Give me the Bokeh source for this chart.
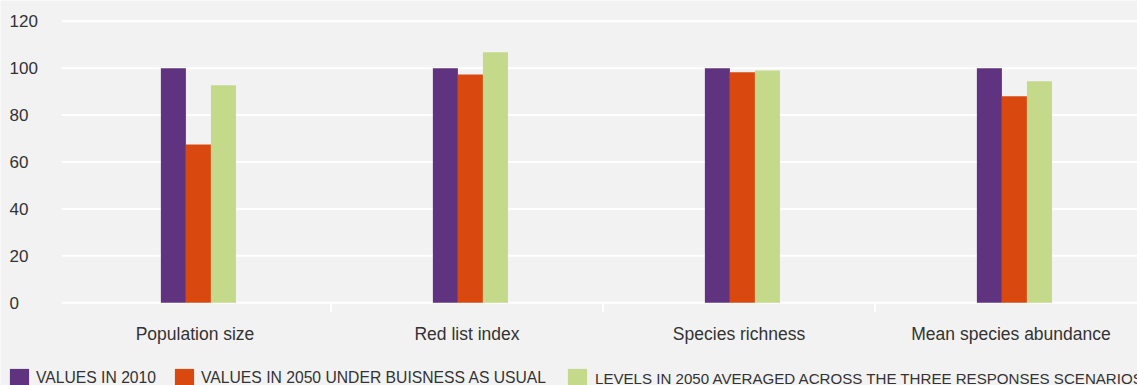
from bokeh.plotting import figure
from bokeh.models import ColumnDataSource, Range1d, Legend, LegendItem
from bokeh.core.properties import value
from bokeh.transform import dodge
from bokeh.embed import file_html
from bokeh.resources import INLINE

categories = ["Population size", "Red list index", "Species richness", "Mean species abundance"]
values_2010 = [100, 100, 100, 100]
values_2050_bau = [67.5, 97.3, 98.2, 88.0]
levels_2050_avg = [92.7, 106.8, 99.0, 94.4]
series_names = ["VALUES IN 2010", "VALUES IN 2050 UNDER BUISNESS AS USUAL",
                "LEVELS IN 2050 AVERAGED ACROSS THE THREE RESPONSES SCENARIOS"]
colors = ["#5f3380", "#d9480e", "#c4d98a"]
y_ticks = [0, 20, 40, 60, 80, 100, 120]

n = len(categories)
xpos = [i + 0.5 for i in range(n)]          # category centres
bounds = [float(i) for i in range(1, n)]    # category separators

BG = "#f2f2f2"
FONT = value("Liberation Sans")
TXT = "#333333"

X0, X1 = -0.2151, 3.965
Y0, Y1 = -35.24, 128.82

p = figure(width=1137, height=385, output_backend="svg", toolbar_location=None,
           x_range=Range1d(X0, X1), y_range=Range1d(Y0, Y1),
           x_axis_location=None, y_axis_location=None,
           min_border=0, min_border_left=0, min_border_right=0,
           min_border_top=0, min_border_bottom=0,
           background_fill_color=BG, border_fill_color=BG, outline_line_color=None)
p.grid.visible = False

# horizontal grid lines (value ticks)
grid = ColumnDataSource(dict(y=y_ticks, x0=[0.01] * len(y_ticks), x1=[X1] * len(y_ticks),
                             lab=[str(t) for t in y_ticks], lx=[-0.182] * len(y_ticks)))
p.segment(x0="x0", x1="x1", y0="y", y1="y", source=grid, line_color="white", line_width=2)
# value tick labels
p.text(x="lx", y="y", text="lab", source=grid, text_align="left", text_baseline="middle",
       text_font=FONT, text_font_size="17px", text_color=TXT)

# category separators
sep = ColumnDataSource(dict(x=bounds, y0=[0] * len(bounds), y1=[-4.0] * len(bounds)))
p.segment(x0="x", x1="x", y0="y0", y1="y1", source=sep, line_color="white", line_width=2)

# bars
src = ColumnDataSource(dict(x=xpos, cat=categories, a=values_2010, b=values_2050_bau,
                            c=levels_2050_avg, ly=[-13.2] * n))
bw = 0.092
off0 = -0.0795
r1 = p.vbar(x=dodge("x", off0, range=p.x_range), top="a", width=bw, source=src,
            fill_color=colors[0], line_color=None)
r2 = p.vbar(x=dodge("x", off0 + bw, range=p.x_range), top="b", width=bw, source=src,
            fill_color=colors[1], line_color=None)
r3 = p.vbar(x=dodge("x", off0 + 2 * bw, range=p.x_range), top="c", width=bw, source=src,
            fill_color=colors[2], line_color=None)

# category labels
p.text(x="x", y="ly", text="cat", source=src, text_align="center", text_baseline="alphabetic",
       text_font=FONT, text_font_size="17.5px", text_color=TXT)

common = dict(orientation="horizontal", glyph_width=24, glyph_height=24, label_height=24,
              padding=0, margin=0, border_line_color=None, background_fill_alpha=0,
              label_text_font="Liberation Sans", label_text_color=TXT)
legend_a = Legend(items=[LegendItem(label=series_names[0], renderers=[r1]),
                         LegendItem(label=series_names[1], renderers=[r2])],
                  location=(7, -5), label_standoff=5, spacing=16,
                  label_text_font_size="15.7px", **common)
legend_b = Legend(items=[LegendItem(label=series_names[2], renderers=[r3])],
                  location=(565, -5), label_standoff=6, spacing=16,
                  label_text_font_size="15.1px", **common)
p.add_layout(legend_a, "center")
p.add_layout(legend_b, "center")

open("out.html", "w").write(file_html(p, INLINE))
